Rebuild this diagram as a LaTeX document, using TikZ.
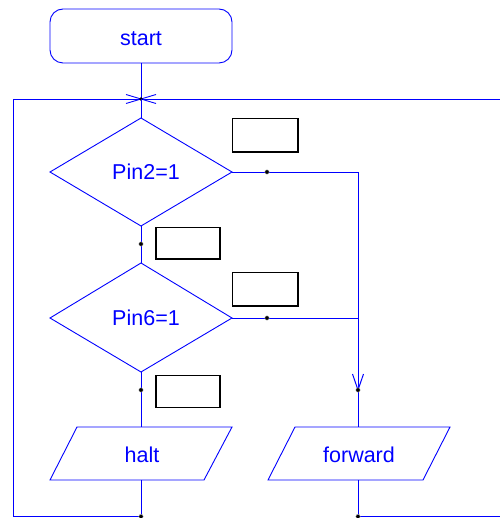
\documentclass[tikz,border=0pt]{standalone}
\usepackage{fontspec}
\setmainfont{Liberation Sans}
\usetikzlibrary{arrows.meta}
\definecolor{fblue}{RGB}{0,0,255}
\tikzset{
  x=1pt, y=-1pt,
  flow/.style={draw=fblue, line width=0.9pt},
  lbl/.style={text=fblue, font=\fontsize{21.5}{26}\selectfont, inner sep=0pt},
  note/.style={draw=black, line width=1.6pt},
  dotmark/.style={fill=black, draw=gray!60, line width=0.4pt},
}
\begin{document}
\begin{tikzpicture}
\useasboundingbox (0,0) rectangle (500,518);
% start
\draw[flow, rounded corners=13pt] (50,9) rectangle (232,63);
\node[lbl] (start) at (141,38.5) {start};
\coordinate (startb) at (141,63);
% loop junction
\coordinate (J) at (141,99);
\coordinate (JL) at (13,99);
\coordinate (JR) at (500,99);
\draw[flow] (startb) -- (J);
\draw[flow] (JL) -- (JR);
\draw[flow] (126,94.5) -- (156,103.5);
\draw[flow] (126,103.5) -- (156,94.5);
\fill (J) circle (1.8);
% diamond 1
\coordinate (d1t) at (141,118);
\coordinate (d1l) at (50,172);
\coordinate (d1r) at (232,172);
\coordinate (d1b) at (141,226);
\draw[flow] (d1t) -- (d1r) -- (d1b) -- (d1l) -- cycle;
\node[lbl] (d1) at (146,172) {Pin2=1};
\draw[flow] (J) -- (d1t);
% diamond 2
\coordinate (d2t) at (141,263);
\coordinate (d2l) at (50,318);
\coordinate (d2r) at (232,318);
\coordinate (d2b) at (141,372);
\draw[flow] (d2t) -- (d2r) -- (d2b) -- (d2l) -- cycle;
\node[lbl] (d2) at (146,318) {Pin6=1};
\draw[flow] (d1b) -- (d2t);
% notes
\draw[note] (232.5,118.5) rectangle (298,152);
\draw[note] (156,227.5) rectangle (220,259);
\draw[note] (232.5,272.5) rectangle (298,306);
\draw[note] (156,375.5) rectangle (220,407.5);
% yes branches
\coordinate (R1) at (358,172);
\coordinate (R2) at (358,318);
\coordinate (A) at (358,390);
\draw[flow] (d1r) -- (R1) -- (A);
\draw[flow] (d2r) -- (R2);
\draw[fblue, line width=1pt] (352.5,374) -- (A) -- (363.5,374);
% parallelograms
\draw[flow] (77,427) -- (232,427) -- (204,480) -- (50,480) -- cycle;
\node[lbl] (halt) at (142,455) {halt};
\draw[flow] (295,427) -- (450,427) -- (423,480) -- (268,480) -- cycle;
\node[lbl] (fwd) at (359,454.5) {forward};
\coordinate (ht) at (141,427);
\coordinate (hb) at (141,480);
\coordinate (ft) at (358,427);
\coordinate (fb) at (358,480);
\draw[flow] (d2b) -- (ht);
\draw[flow] (A) -- (ft);
% bottom loop
\coordinate (B1) at (141,516.5);
\coordinate (B2) at (358,516.5);
\coordinate (BL) at (13,516.5);
\coordinate (BR) at (500,516.5);
\draw[flow] (hb) -- (B1) -- (BL) -- (JL);
\draw[flow] (fb) -- (B2) -- (BR);
% small dots
\foreach \p in {(267,172),(267,318),(141,244),(141,390),(358,390),(141,516.5),(358,516.5)}
  \fill[dotmark] \p circle (2.2);
\end{tikzpicture}
\end{document}
